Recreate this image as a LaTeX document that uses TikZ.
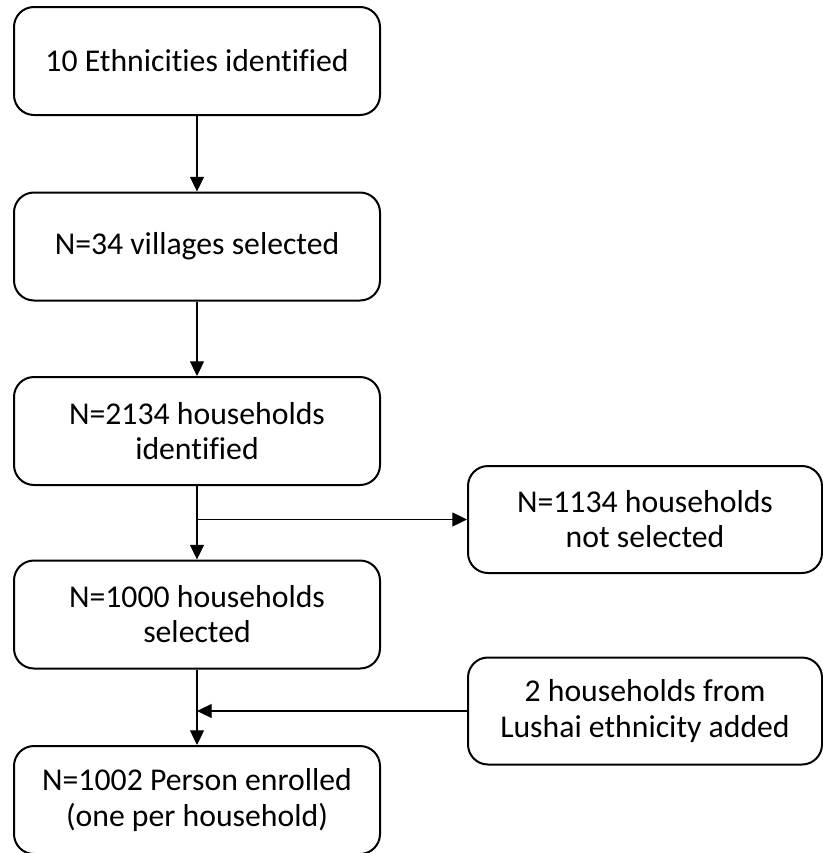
\documentclass[tikz,border=0pt]{standalone}
\usepackage{fontspec}
\setmainfont[RawFeature=-liga]{Carlito}
\usetikzlibrary{arrows.meta}
\begin{document}
\begin{tikzpicture}[x=0.75pt,y=-0.75pt,
  box/.style={draw, line width=1.5pt, rounded corners=15pt, align=center,
    font=\fontsize{23.8}{26.3}\selectfont, inner sep=0pt},
  leftbox/.style={box, minimum width=274.5pt, minimum height=81pt},
  rightbox/.style={box, minimum width=265.5pt, minimum height=80.25pt},
  conn/.style={line width=0.8pt, -{Triangle[length=11pt,width=10.5pt]}}]
\useasboundingbox (0,0) rectangle (823,853);
\node[leftbox] (b1) at (197,61) {10 Ethnicities identified};
\node[leftbox] (b2) at (197,246.5) {N=34 villages selected};
\node[leftbox] (b3) at (197,431) {N=2134 households\\identified};
\node[rightbox] (b4) at (645,519.5) {N=1134 households\\not selected};
\node[leftbox] (b5) at (197,614.5) {N=1000 households\\selected};
\node[rightbox] (b6) at (645,711) {2 households from\\Lushai ethnicity added};
\node[leftbox] (b7) at (197,800) {N=1002 Person enrolled\\(one per household)};
\draw[conn] (b1.south) -- (b2.north);
\draw[conn] (b2.south) -- (b3.north);
\draw[conn] (b3.south) -- (b5.north);
\coordinate (br) at (b3.south |- b4.west);
\draw[conn] (br) -- (b4.west);
\draw[conn] (b5.south) -- (b7.north);
\draw[conn] (b6.west) -- (b5.south |- b6.west);
\end{tikzpicture}
\end{document}
